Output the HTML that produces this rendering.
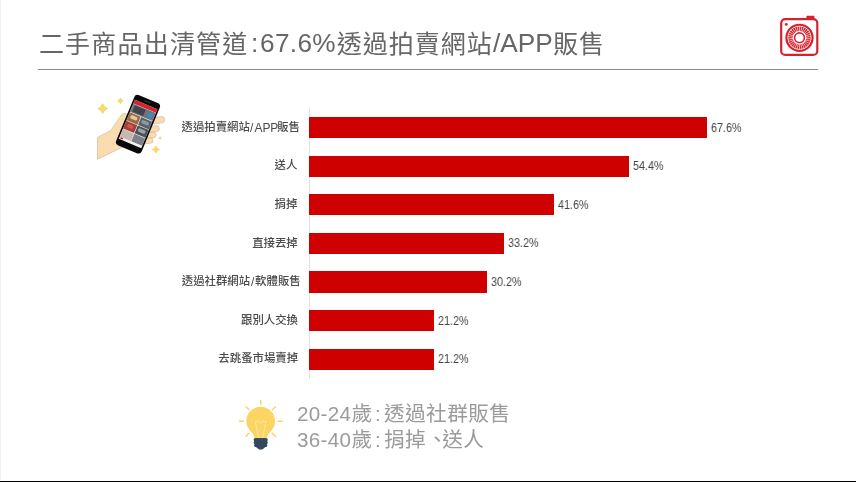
<!DOCTYPE html>
<html lang="zh-Hant">
<head>
<meta charset="utf-8">
<title>二手商品出清管道</title>
<style>
html,body{margin:0;padding:0;background:#fff}
body{width:856px;height:482px;position:relative;overflow:hidden;font-family:"Liberation Sans",sans-serif}
.slide{position:absolute;left:0;top:0;width:856px;height:482px;background:#fff;overflow:hidden}
.content{position:absolute;left:0;top:0;width:856px;height:482px;filter:blur(0.4px)}
.edge-l{position:absolute;left:0;top:0;width:1px;height:480px;background:#f1f1f1}
.edge-b{position:absolute;left:0;top:480.500px;width:856px;height:1.500px;background:#000}
h1,p,ul,li{margin:0;padding:0;list-style:none;font-weight:normal;font-size:inherit}
.abs,.cjk,.lat,.bar{position:absolute;display:block}
.cjk{white-space:nowrap;font-family:"Liberation Sans","Noto Sans CJK TC",sans-serif;-webkit-font-smoothing:antialiased}
.lat{line-height:1;white-space:nowrap;transform-origin:0 50%;will-change:transform;-webkit-font-smoothing:antialiased}
.rule{position:absolute;left:38px;top:68.800px;width:780px;height:1.100px;background:#8a8a8a}
.axis{position:absolute;left:308.900px;top:108.200px;width:0.900px;height:271px;background:#e2e2e2}
.bar{left:309.4px;height:21.4px;background:#ce0000}
</style>
</head>
<body>
<div class="slide">
<div class="edge-l"></div>
<div class="content">
<svg class="abs" style="left:776px;top:12px" width="48" height="48" viewBox="776 12 48 48" role="img" aria-label="camera logo"><g fill="none" stroke="#d3232f"><rect x="781.2" y="19.2" width="36.1" height="35.7" rx="4" stroke-width="2.2"/><circle cx="799.5" cy="37.8" r="13.05" stroke-width="2.2"/><circle cx="799.5" cy="37.8" r="9.05" stroke-width="4.5"/><circle cx="799.5" cy="37.8" r="4.9" stroke-width="1.6"/><path d="M805.47 38.43L811.24 39.03M805.21 39.65L810.72 41.45M804.70 40.80L809.72 43.70M803.96 41.81L808.27 45.70M803.03 42.65L806.44 47.35M801.94 43.28L804.30 48.58M800.75 43.67L801.95 49.34M799.50 43.80L799.50 49.60M798.25 43.67L797.05 49.34M797.06 43.28L794.70 48.58M795.97 42.65L792.56 47.35M795.04 41.81L790.73 45.70M794.30 40.80L789.28 43.70M793.79 39.65L788.28 41.45M793.53 38.43L787.76 39.03M793.53 37.17L787.76 36.57M793.79 35.95L788.28 34.15M794.30 34.80L789.28 31.90M795.04 33.79L790.73 29.90M795.97 32.95L792.56 28.25M797.06 32.32L794.70 27.02M798.25 31.93L797.05 26.26M799.50 31.80L799.50 26.00M800.75 31.93L801.95 26.26M801.94 32.32L804.30 27.02M803.03 32.95L806.44 28.25M803.96 33.79L808.27 29.90M804.70 34.80L809.72 31.90M805.21 35.95L810.72 34.15M805.47 37.17L811.24 36.57" stroke="#fff" stroke-width="0.6"/></g><rect x="806.4" y="15.8" width="8" height="3.4" rx="0.6" fill="#d3232f"/><circle cx="786.3" cy="24.4" r="1.45" fill="#d3232f"/></svg>
<h1 class="ttl">
<span class="cjk" style="left:38.90px;top:29.05px;width:209.60px;height:30.00px;line-height:30.00px;font-size:25px;letter-spacing:1.2px;color:#666666">二手商品出清管道</span>
<span class="lat" style="left:251.20px;top:30.42px;font-size:26.20px;color:#666666;">:</span>
<span class="lat" style="left:260.20px;top:30.42px;font-size:26.20px;color:#666666;letter-spacing:0.35px;">67.6%</span>
<span class="cjk" style="left:336.70px;top:29.05px;width:156.00px;height:30.00px;line-height:30.00px;font-size:25px;letter-spacing:1px;color:#666666">透過拍賣網站</span>
<span class="lat" style="left:493.00px;top:30.42px;font-size:26.20px;color:#666666;">/APP</span>
<span class="cjk" style="left:553.30px;top:29.05px;width:51.20px;height:30.00px;line-height:30.00px;font-size:25px;letter-spacing:0.6px;color:#666666">販售</span>
</h1>
<div class="rule"></div>
<div class="axis"></div>
<ul class="chart">
<li>
<span class="cjk" style="left:181.50px;top:120.87px;width:68.10px;height:13.68px;line-height:13.68px;font-size:11.4px;font-weight:500;color:#4b4b4b">透過拍賣網站</span>
<span class="lat nar" style="left:249.90px;top:121.64px;font-size:12.00px;color:#4b4b4b;">/<span style="margin-left:1.2px;letter-spacing:-0.1px">APP</span></span>
<span class="cjk" style="left:277.20px;top:120.87px;width:22.70px;height:13.68px;line-height:13.68px;font-size:11.4px;font-weight:500;color:#4b4b4b">販售</span>
<span class="bar" style="top:116.90px;width:397.22px"></span>
<span class="lat val" style="left:710.62px;top:121.67px;font-size:12.20px;color:#444444;transform:scaleX(0.885);">67.6%</span>
</li>
<li>
<span class="cjk" style="left:274.60px;top:159.47px;width:22.70px;height:13.68px;line-height:13.68px;font-size:11.4px;font-weight:500;color:#4b4b4b">送人</span>
<span class="bar" style="top:155.50px;width:319.65px"></span>
<span class="lat val" style="left:633.05px;top:160.27px;font-size:12.20px;color:#444444;transform:scaleX(0.885);">54.4%</span>
</li>
<li>
<span class="cjk" style="left:274.60px;top:198.07px;width:22.70px;height:13.68px;line-height:13.68px;font-size:11.4px;font-weight:500;color:#4b4b4b">捐掉</span>
<span class="bar" style="top:194.10px;width:244.44px"></span>
<span class="lat val" style="left:557.84px;top:198.87px;font-size:12.20px;color:#444444;transform:scaleX(0.885);">41.6%</span>
</li>
<li>
<span class="cjk" style="left:252.20px;top:236.67px;width:45.40px;height:13.68px;line-height:13.68px;font-size:11.4px;font-weight:500;color:#4b4b4b">直接丟掉</span>
<span class="bar" style="top:232.70px;width:195.08px"></span>
<span class="lat val" style="left:508.48px;top:237.47px;font-size:12.20px;color:#444444;transform:scaleX(0.885);">33.2%</span>
</li>
<li>
<span class="cjk" style="left:181.80px;top:275.27px;width:68.10px;height:13.68px;line-height:13.68px;font-size:11.4px;font-weight:500;color:#4b4b4b">透過社群網站</span>
<span class="lat nar" style="left:250.80px;top:276.04px;font-size:12.00px;color:#4b4b4b;">/</span>
<span class="cjk" style="left:255.10px;top:275.27px;width:45.40px;height:13.68px;line-height:13.68px;font-size:11.4px;font-weight:500;color:#4b4b4b">軟體販售</span>
<span class="bar" style="top:271.30px;width:177.46px"></span>
<span class="lat val" style="left:490.86px;top:276.07px;font-size:12.20px;color:#444444;transform:scaleX(0.885);">30.2%</span>
</li>
<li>
<span class="cjk" style="left:241.05px;top:313.87px;width:56.75px;height:13.68px;line-height:13.68px;font-size:11.4px;font-weight:500;color:#4b4b4b">跟別人交換</span>
<span class="bar" style="top:309.90px;width:124.57px"></span>
<span class="lat val" style="left:437.97px;top:314.67px;font-size:12.20px;color:#444444;transform:scaleX(0.885);">21.2%</span>
</li>
<li>
<span class="cjk" style="left:218.35px;top:352.47px;width:79.45px;height:13.68px;line-height:13.68px;font-size:11.4px;font-weight:500;color:#4b4b4b">去跳蚤市場賣掉</span>
<span class="bar" style="top:348.50px;width:124.57px"></span>
<span class="lat val" style="left:437.97px;top:353.27px;font-size:12.20px;color:#444444;transform:scaleX(0.885);">21.2%</span>
</li>
</ul>
<p class="note">
<span class="lat" style="left:297.00px;top:403.56px;font-size:20.60px;color:#9b9b9b;letter-spacing:0.30px;">20-24</span>
<span class="cjk" style="left:351.60px;top:401.83px;width:21.10px;height:24.84px;line-height:24.84px;font-size:20.7px;color:#9b9b9b">歲</span>
<span class="lat" style="left:375.40px;top:403.56px;font-size:20.60px;color:#9b9b9b;">:</span>
<span class="cjk" style="left:383.90px;top:401.83px;width:126.60px;height:24.84px;line-height:24.84px;font-size:20.7px;letter-spacing:0.4px;color:#9b9b9b">透過社群販售</span>
</p><p class="note">
<span class="lat" style="left:297.00px;top:429.56px;font-size:20.60px;color:#9b9b9b;letter-spacing:0.30px;">36-40</span>
<span class="cjk" style="left:351.60px;top:427.83px;width:21.10px;height:24.84px;line-height:24.84px;font-size:20.7px;color:#9b9b9b">歲</span>
<span class="lat" style="left:375.40px;top:429.56px;font-size:20.60px;color:#9b9b9b;">:</span>
<span class="cjk" style="left:383.90px;top:427.83px;width:42.20px;height:24.84px;line-height:24.84px;font-size:20.7px;letter-spacing:0.4px;color:#9b9b9b">捐掉</span>
<span class="cjk" style="left:427.00px;top:427.83px;width:21.10px;height:24.84px;line-height:24.84px;font-size:20.7px;color:#9b9b9b">、</span>
<span class="cjk" style="left:442.20px;top:427.83px;width:42.20px;height:24.84px;line-height:24.84px;font-size:20.7px;letter-spacing:0.4px;color:#9b9b9b">送人</span>
</p>
<svg class="abs" style="left:92px;top:90px" width="76" height="76" viewBox="92 90 76 76" role="img" aria-label="hand holding a phone"><path fill="#fbdcb1" stroke="#b9a58a" stroke-width="0.45" stroke-linejoin="round" d="M97.5 137.4L110.900 130.300L121.400 115Q122.500 113.400 124.300 113.600L130 114.400L131 146L121.500 147.500L97.500 159.400Z"/><g fill="#fbdcb1" stroke="#b9a58a" stroke-width="0.45"><rect x="150" y="117.200" width="14.700" height="6.300" rx="3.100" transform="rotate(-8 157 120)"/><rect x="146" y="126.200" width="13.400" height="5.800" rx="2.900" transform="rotate(-6 152 129)"/><rect x="144" y="132.400" width="12.200" height="5.600" rx="2.800" transform="rotate(-4 150 135)"/><rect x="141.500" y="138.200" width="11.500" height="5.300" rx="2.600" transform="rotate(-4 147 141)"/></g><g transform="translate(138 124.2) rotate(22.5) scale(1.055)"><rect x="-13.100" y="-25.800" width="26.200" height="51.600" rx="3.600" fill="#080808"/><rect x="-11.500" y="-20.200" width="23" height="40" fill="#f4f1ee"/><rect x="-11.500" y="-20.200" width="23" height="3.800" fill="#d5242c"/><rect x="-11.500" y="-16.200" width="23" height="8.200" fill="#6f747c"/><rect x="-9.500" y="-15.400" width="11" height="6.400" fill="#3f444c"/><circle cx="7.700" cy="-12" r="2.300" fill="#2f8fd0"/><rect x="-11.500" y="-7.400" width="11.200" height="8" fill="#9c6a45"/><rect x="0.300" y="-7.400" width="11.200" height="8" fill="#58636b"/><rect x="-11.500" y="1.200" width="11.200" height="8" fill="#a2403a"/><rect x="0.300" y="1.200" width="11.200" height="8" fill="#4d5258"/><rect x="-11.500" y="9.800" width="11.200" height="7.600" fill="#c7b7b0"/><rect x="0.300" y="9.800" width="11.200" height="7.600" fill="#7c8288"/><rect x="-9.500" y="-5.800" width="7" height="3.400" rx="1.500" fill="#e2c9a0"/><rect x="-9" y="3" width="6" height="3.600" rx="1.500" fill="#d0574d"/><rect x="2" y="3" width="7.500" height="3.400" rx="1.500" fill="#9aa3a8"/><rect x="2" y="-5.600" width="7.500" height="3.400" rx="1.500" fill="#8e9aa0"/><rect x="-10.500" y="17.600" width="2.600" height="1.300" fill="#d3232f"/><rect x="-3.200" y="-23.300" width="6.400" height="0.900" rx="0.400" fill="#3a3a3a"/></g><path fill="#fadb5f" stroke="#cdb45a" stroke-width="0.3" d="M102.70 103.60L104.64 106.66L107.70 108.60L104.64 110.54L102.70 113.60L100.76 110.54L97.70 108.60L100.76 106.66ZM120.40 97.80L121.57 99.63L123.40 100.80L121.57 101.97L120.40 103.80L119.23 101.97L117.40 100.80L119.23 99.63ZM155.90 145.90L157.34 148.16L159.60 149.60L157.34 151.04L155.90 153.30L154.46 151.04L152.20 149.60L154.46 148.16ZM160.10 136.60L160.74 137.46L161.60 138.10L160.74 138.74L160.10 139.60L159.46 138.74L158.60 138.10L159.46 137.46Z"/></svg>
<svg class="abs" style="left:236px;top:396px" width="50" height="58" viewBox="236 396 50 58" role="img" aria-label="light bulb"><g stroke="#fcd462" stroke-width="1.45" stroke-linecap="round" fill="none"><path d="M260.7 400.7V404.6M246 406.7L249 409.7M275.4 406.7L272.4 409.7M239.4 421.3H243.3M278.1 421.3H282M246 436.300L249 433.300M275.400 436.300L272.400 433.300"/></g><path fill="#fcd462" d="M260.7 406.8c8 0 14.4 6.4 14.4 14.4c0 4.600-2.300 8-4.900 10.700c-1.900 2-3.100 3.500-3.400 6.500h-12.200c-0.300-3-1.500-4.500-3.400-6.500c-2.600-2.700-4.900-6.100-4.900-10.700c0-8 6.400-14.400 14.400-14.400z"/><path fill="#fde08a" fill-opacity="0.12" stroke="#fff" stroke-opacity="0.85" stroke-width="0.5" stroke-linejoin="round" d="M258.700 438L255.300 421.700L258.300 421L260.700 422.900L263.100 421L266.100 421.700L262.700 438"/><g fill="#34495e"><rect x="253.700" y="438.200" width="14" height="3.200" rx="1.300"/><rect x="253.700" y="441.100" width="14" height="3.200" rx="1.300"/><rect x="254.100" y="444" width="13.200" height="2.900" rx="1.300"/><rect x="255.200" y="438.200" width="11" height="8.500"/><path d="M254.900 446.200L258.500 449Q260.700 450.400 262.900 449L266.500 446.200Z"/></g></svg>
</div>
<div class="edge-b"></div>
</div>
</body>
</html>
